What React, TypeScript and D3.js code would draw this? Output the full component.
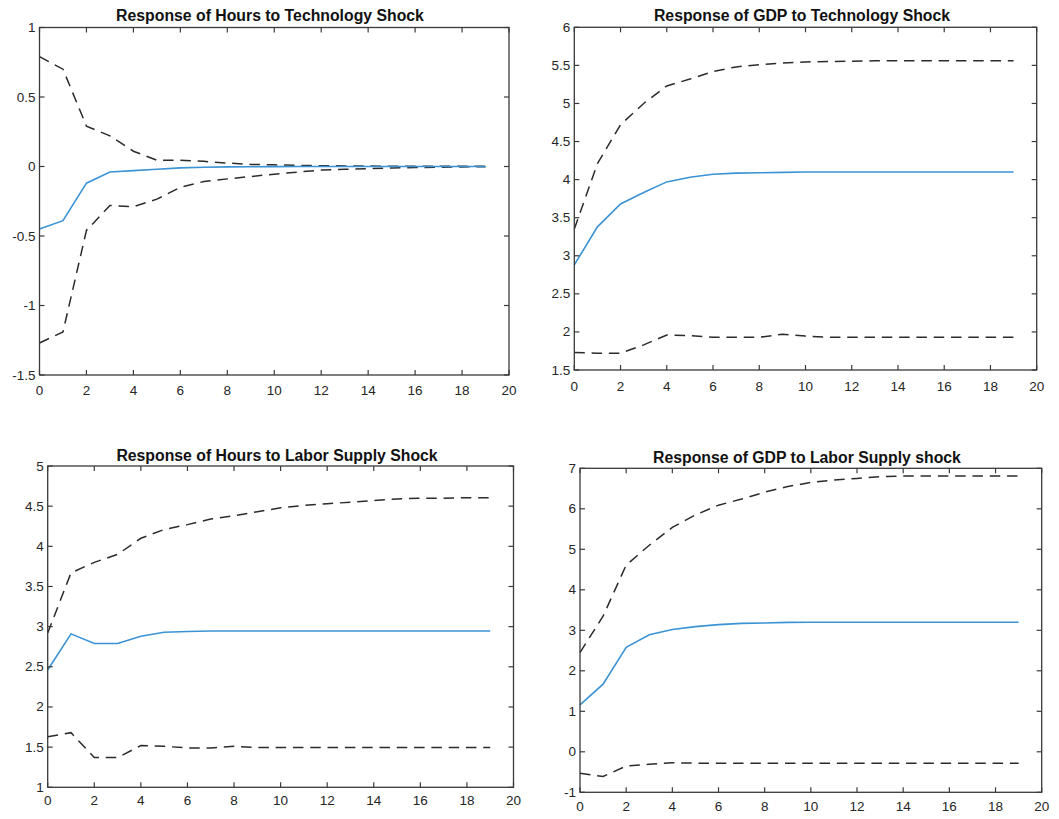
import React from "react";
import * as d3 from "d3";

const periods = d3.range(0, 20);
const xTicks = d3.range(0, 21, 2);

// Panel 1: Hours to Technology Shock
const hoursTechMid = [-0.45, -0.39, -0.12, -0.04, -0.03, -0.02, -0.01, -0.005, -0.003, -0.002, -0.001, 0, 0, 0, 0, 0, 0, 0, 0, 0];
const hoursTechUp = [0.79, 0.7, 0.29, 0.22, 0.11, 0.045, 0.045, 0.037, 0.025, 0.015, 0.012, 0.008, 0.006, 0.004, 0.003, 0.002, 0.002, 0.001, 0.001, 0.001];
const hoursTechLo = [-1.27, -1.19, -0.46, -0.28, -0.29, -0.235, -0.15, -0.108, -0.089, -0.072, -0.055, -0.04, -0.026, -0.02, -0.015, -0.01, -0.008, -0.005, -0.003, -0.002];
const hoursTechTicks = [-1.5, -1, -0.5, 0, 0.5, 1];

// Panel 2: GDP to Technology Shock
const gdpTechMid = [2.88, 3.38, 3.68, 3.83, 3.97, 4.03, 4.07, 4.085, 4.09, 4.095, 4.1, 4.1, 4.1, 4.1, 4.1, 4.1, 4.1, 4.1, 4.1, 4.1];
const gdpTechUp = [3.35, 4.21, 4.72, 5.0, 5.23, 5.32, 5.42, 5.48, 5.51, 5.53, 5.545, 5.55, 5.555, 5.56, 5.56, 5.56, 5.56, 5.56, 5.56, 5.56];
const gdpTechLo = [1.73, 1.72, 1.72, 1.83, 1.96, 1.95, 1.93, 1.93, 1.93, 1.97, 1.945, 1.93, 1.93, 1.93, 1.93, 1.93, 1.93, 1.93, 1.93, 1.93];
const gdpTechTicks = [1.5, 2, 2.5, 3, 3.5, 4, 4.5, 5, 5.5, 6];

// Panel 3: Hours to Labor Supply Shock
const hoursLabMid = [2.46, 2.91, 2.79, 2.79, 2.88, 2.93, 2.94, 2.945, 2.945, 2.945, 2.945, 2.945, 2.945, 2.945, 2.945, 2.945, 2.945, 2.945, 2.945, 2.945];
const hoursLabUp = [2.92, 3.67, 3.8, 3.9, 4.1, 4.21, 4.27, 4.34, 4.38, 4.43, 4.48, 4.51, 4.53, 4.55, 4.57, 4.59, 4.6, 4.6, 4.605, 4.605];
const hoursLabLo = [1.63, 1.68, 1.37, 1.37, 1.52, 1.51, 1.49, 1.49, 1.51, 1.495, 1.495, 1.495, 1.495, 1.495, 1.495, 1.495, 1.495, 1.495, 1.495, 1.495];
const hoursLabTicks = [1, 1.5, 2, 2.5, 3, 3.5, 4, 4.5, 5];

// Panel 4: GDP to Labor Supply shock
const gdpLabMid = [1.16, 1.67, 2.58, 2.89, 3.02, 3.09, 3.14, 3.17, 3.18, 3.195, 3.2, 3.2, 3.2, 3.2, 3.2, 3.2, 3.2, 3.2, 3.2, 3.2];
const gdpLabUp = [2.45, 3.35, 4.61, 5.1, 5.54, 5.85, 6.09, 6.24, 6.41, 6.55, 6.65, 6.71, 6.75, 6.79, 6.81, 6.81, 6.81, 6.81, 6.81, 6.81];
const gdpLabLo = [-0.53, -0.61, -0.35, -0.31, -0.27, -0.28, -0.28, -0.28, -0.28, -0.28, -0.28, -0.28, -0.28, -0.28, -0.28, -0.28, -0.28, -0.28, -0.28, -0.28];
const gdpLabTicks = [-1, 0, 1, 2, 3, 4, 5, 6, 7];

const titles = [
  "Response of Hours to Technology Shock",
  "Response of GDP to Technology Shock",
  "Response of Hours to Labor Supply Shock",
  "Response of GDP to Labor Supply shock",
];

type PanelSpec = {
  title: string;
  mid: number[];
  up: number[];
  lo: number[];
  yTicks: number[];
  left: number;
  right: number;
  top: number;
  bottom: number;
  titleX: number;
  titleY: number;
  xLabelDy: number;
};

const panels: PanelSpec[] = [
  { title: titles[0], mid: hoursTechMid, up: hoursTechUp, lo: hoursTechLo, yTicks: hoursTechTicks,
    left: 39.5, right: 509, top: 27.5, bottom: 375, titleX: 270, titleY: 20.5, xLabelDy: 15.5 },
  { title: titles[1], mid: gdpTechMid, up: gdpTechUp, lo: gdpTechLo, yTicks: gdpTechTicks,
    left: 574.3, right: 1036.7, top: 27.3, bottom: 370, titleX: 802, titleY: 20.5, xLabelDy: 16 },
  { title: titles[2], mid: hoursLabMid, up: hoursLabUp, lo: hoursLabLo, yTicks: hoursLabTicks,
    left: 47.7, right: 513.5, top: 466, bottom: 787.3, titleX: 277, titleY: 460.5, xLabelDy: 13.5 },
  { title: titles[3], mid: gdpLabMid, up: gdpLabUp, lo: gdpLabLo, yTicks: gdpLabTicks,
    left: 580, right: 1041.7, top: 468.3, bottom: 792.3, titleX: 807, titleY: 462.5, xLabelDy: 14.5 },
];

const axisColor = "#3a3a3a";
const textColor = "#262626";
const blue = "#3b93d5";
const dashColor = "#2b2b2b";
const font = "'Liberation Sans', Arial, sans-serif";

function Panel({ p }: { p: PanelSpec }) {
  const x = d3.scaleLinear().domain([0, 20]).range([p.left, p.right]);
  const yDom = d3.extent(p.yTicks) as [number, number];
  const y = d3.scaleLinear().domain(yDom).range([p.bottom, p.top]);
  const line = d3
    .line<number>()
    .x((_, i) => x(periods[i]))
    .y((d) => y(d));
  const tl = 5;
  return (
    <g>
      <text x={p.titleX} y={p.titleY} textAnchor="middle" fontFamily={font} fontWeight="bold" fontSize={15.8} fill="#111">
        {p.title}
      </text>
      <path d={line(p.up) || ""} fill="none" stroke={dashColor} strokeWidth={1.5} strokeDasharray="10.5,6.8" />
      <path d={line(p.lo) || ""} fill="none" stroke={dashColor} strokeWidth={1.5} strokeDasharray="10.5,6.8" />
      <path d={line(p.mid) || ""} fill="none" stroke={blue} strokeWidth={1.6} />
      <rect x={p.left} y={p.top} width={p.right - p.left} height={p.bottom - p.top} fill="none" stroke={axisColor} strokeWidth={1.3} />
      {xTicks.map((t) => (
        <g key={"x" + t}>
          <line x1={x(t)} x2={x(t)} y1={p.bottom} y2={p.bottom - tl} stroke={axisColor} strokeWidth={1.2} />
          <line x1={x(t)} x2={x(t)} y1={p.top} y2={p.top + tl} stroke={axisColor} strokeWidth={1.2} />
          <text x={x(t)} y={p.bottom + p.xLabelDy} textAnchor="middle" dominantBaseline="central" fontFamily={font} fontSize={13.5} fill={textColor}>
            {t}
          </text>
        </g>
      ))}
      {p.yTicks.map((t) => (
        <g key={"y" + t}>
          <line x1={p.left} x2={p.left + tl} y1={y(t)} y2={y(t)} stroke={axisColor} strokeWidth={1.2} />
          <line x1={p.right} x2={p.right - tl} y1={y(t)} y2={y(t)} stroke={axisColor} strokeWidth={1.2} />
          <text x={p.left - 4} y={y(t)} textAnchor="end" dominantBaseline="central" fontFamily={font} fontSize={13.5} fill={textColor}>
            {String(t)}
          </text>
        </g>
      ))}
    </g>
  );
}

export default function App() {
  return (
    <svg width={1059} height={819} style={{ position: "absolute", left: 0, top: 0, background: "#fff" }}>
      {panels.map((p, i) => (
        <Panel key={i} p={p} />
      ))}
    </svg>
  );
}
